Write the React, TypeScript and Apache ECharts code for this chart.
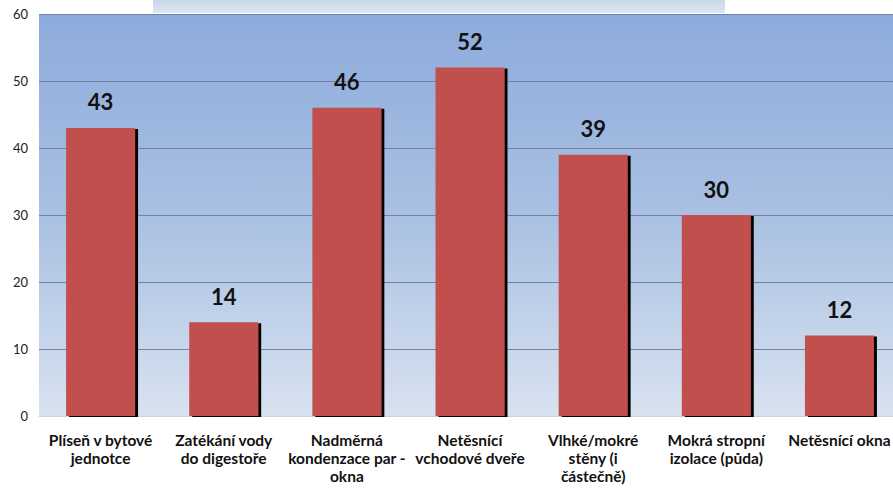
import React, { useEffect, useRef } from "react";
import * as echarts from "echarts";

const categories = [
  "Plíseň v bytové\njednotce",
  "Zatékání vody\ndo digestoře",
  "Nadměrná\nkondenzace par -\nokna",
  "Netěsnící\nvchodové dveře",
  "Vlhké/mokré\nstěny (i\nčástečně)",
  "Mokrá stropní\nizolace (půda)",
  "Netěsnící okna",
];
const values = [43, 14, 46, 52, 39, 30, 12];
const yMin = 0;
const yMax = 60;
const yInterval = 10;

export default function App() {
  const ref = useRef<HTMLDivElement>(null);
  useEffect(() => {
    if (!ref.current) return;
    const chart = echarts.init(ref.current, undefined, { renderer: "svg" });
    chart.setOption({
      animation: false,
      graphic: [
        {
          type: "rect",
          shape: { x: 153, y: 0, width: 572, height: 13 },
          style: {
            fill: new echarts.graphic.LinearGradient(0, 0, 0, 1, [
              { offset: 0, color: "#c9d7ea" },
              { offset: 1, color: "#dce6f2" },
            ]),
          },
          z: 0,
        },
      ],
      grid: {
        left: 39,
        right: 0,
        top: 14,
        bottom: 72,
        show: true,
        borderWidth: 0,
        backgroundColor: new echarts.graphic.LinearGradient(0, 0, 0, 1, [
          { offset: 0, color: "#8dabdc" },
          { offset: 0.5, color: "#a9c0e2" },
          { offset: 1, color: "#d8e2f0" },
        ]),
      },
      xAxis: {
        type: "category",
        data: categories,
        axisLine: { show: true, lineStyle: { color: "#c8d2e0", width: 1 } },
        axisTick: { show: false },
        axisLabel: {
          interval: 0,
          color: "#111",
          fontFamily: "Lato",
          fontWeight: "bold",
          fontSize: 15.5,
          lineHeight: 18,
          margin: 15,
        },
      },
      yAxis: {
        type: "value",
        min: yMin,
        max: yMax,
        interval: yInterval,
        axisLine: { show: false },
        axisTick: { show: false },
        splitLine: { lineStyle: { color: "#6f83a6", width: 1 } },
        axisLabel: {
          color: "#222",
          fontFamily: "Lato",
          fontSize: 13,
          margin: 11,
        },
      },
      series: [
        {
          type: "bar",
          data: values,
          barCategoryGap: "44%",
          itemStyle: {
            color: "#c0504d",
            shadowColor: "#000",
            shadowOffsetX: 3,
            shadowOffsetY: 1,
            shadowBlur: 0,
          },
          label: {
            show: true,
            position: "top",
            distance: 15,
            color: "#111",
            fontFamily: "Lato",
            fontWeight: "bold",
            fontSize: 22,
          },
        },
      ],
    });
    return () => chart.dispose();
  }, []);
  return (
    <div style={{ position: "absolute", left: 0, top: 0, width: 893, height: 488, overflow: "hidden" }}>
      <div ref={ref} style={{ width: 901, height: 488 }} />
    </div>
  );
}
